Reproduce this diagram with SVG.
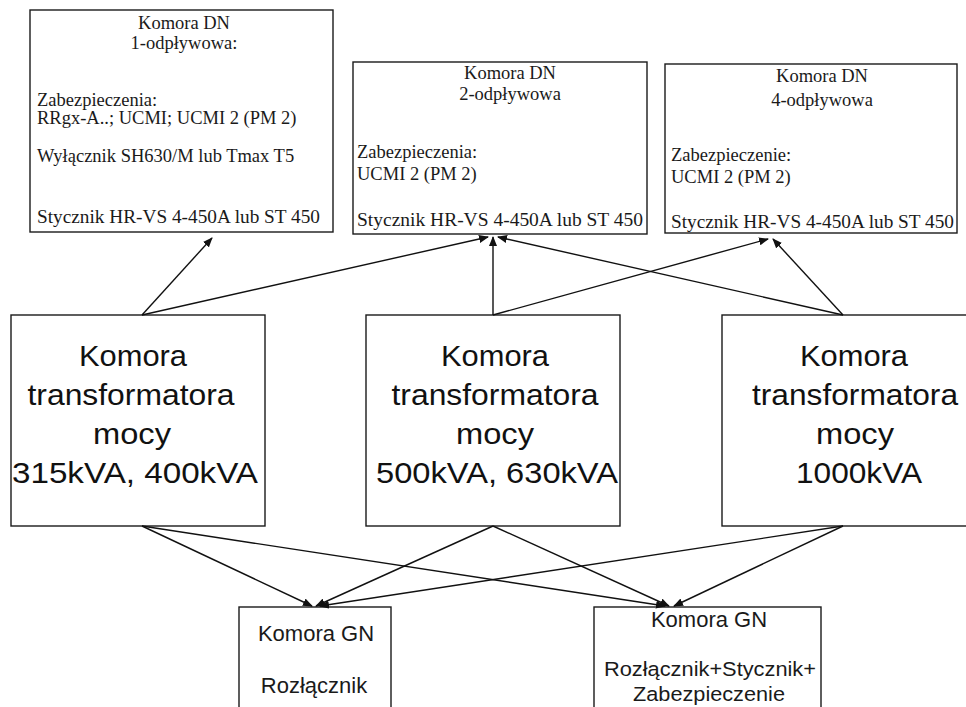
<svg xmlns="http://www.w3.org/2000/svg" width="966" height="707" viewBox="0 0 966 707">
<style>
.box{fill:#fff;stroke:#1a1a1a;stroke-width:1.4}
.dn{font-family:"Liberation Serif","Times New Roman",serif;font-size:18.5px;fill:#1a1a1a}
.tr{font-family:"Liberation Sans",Arial,sans-serif;font-size:30px;fill:#111;text-anchor:middle}
.gn{font-family:"Liberation Sans",Arial,sans-serif;font-size:22px;fill:#1a1a1a;text-anchor:middle}
.gs{font-size:20.5px}
.c{text-anchor:middle}
.con line{stroke:#111;stroke-width:1.4;marker-end:url(#ah)}
</style>
<defs>
<marker id="ah" markerUnits="userSpaceOnUse" markerWidth="10" markerHeight="8" refX="9" refY="4" orient="auto">
<path d="M0,0 L10,4 L0,8 Z" fill="#111"/>
</marker>
</defs>
<rect width="966" height="707" fill="#fff"/>

<g id="dn1">
<rect class="box" x="30" y="10" width="303" height="222"/>
<text class="dn c" x="184" y="29">Komora DN</text>
<text class="dn c" x="184" y="49">1-odpływowa:</text>
<text class="dn" x="37" y="106">Zabezpieczenia:</text>
<text class="dn" x="37" y="124">RRgx-A..; UCMI; UCMI 2 (PM 2)</text>
<text class="dn" x="37" y="162">Wyłącznik SH630/M lub Tmax T5</text>
<text class="dn" x="37" y="223" textLength="283" lengthAdjust="spacingAndGlyphs">Stycznik HR-VS 4-450A lub ST 450</text>
</g>

<g id="dn2">
<rect class="box" x="353" y="62" width="294" height="172"/>
<text class="dn c" x="510" y="79">Komora DN</text>
<text class="dn c" x="510" y="100">2-odpływowa</text>
<text class="dn" x="357" y="158">Zabezpieczenia:</text>
<text class="dn" x="357" y="180">UCMI 2 (PM 2)</text>
<text class="dn" x="357" y="226" textLength="286" lengthAdjust="spacingAndGlyphs">Stycznik HR-VS 4-450A lub ST 450</text>
</g>

<g id="dn4">
<rect class="box" x="665" y="64" width="292" height="169"/>
<text class="dn c" x="822" y="82">Komora DN</text>
<text class="dn c" x="822" y="106">4-odpływowa</text>
<text class="dn" x="671" y="161">Zabezpieczenie:</text>
<text class="dn" x="671" y="183">UCMI 2 (PM 2)</text>
<text class="dn" x="671" y="228" textLength="283" lengthAdjust="spacingAndGlyphs">Stycznik HR-VS 4-450A lub ST 450</text>
</g>

<g id="tr1">
<rect class="box" x="11" y="315" width="254" height="211"/>
<text class="tr" x="133" y="366" textLength="108" lengthAdjust="spacingAndGlyphs">Komora</text>
<text class="tr" x="131" y="405" textLength="207" lengthAdjust="spacingAndGlyphs">transformatora</text>
<text class="tr" x="132" y="444" textLength="78" lengthAdjust="spacingAndGlyphs">mocy</text>
<text class="tr" x="135" y="483" textLength="246" lengthAdjust="spacingAndGlyphs">315kVA, 400kVA</text>
</g>

<g id="tr2">
<rect class="box" x="366" y="315" width="254" height="211"/>
<text class="tr" x="495" y="366" textLength="108" lengthAdjust="spacingAndGlyphs">Komora</text>
<text class="tr" x="495" y="405" textLength="207" lengthAdjust="spacingAndGlyphs">transformatora</text>
<text class="tr" x="495" y="444" textLength="78" lengthAdjust="spacingAndGlyphs">mocy</text>
<text class="tr" x="497" y="483" textLength="242" lengthAdjust="spacingAndGlyphs">500kVA, 630kVA</text>
</g>

<g id="tr3">
<rect class="box" x="722" y="315" width="266" height="211"/>
<text class="tr" x="854" y="366" textLength="108" lengthAdjust="spacingAndGlyphs">Komora</text>
<text class="tr" x="855" y="405" textLength="206" lengthAdjust="spacingAndGlyphs">transformatora</text>
<text class="tr" x="855" y="444" textLength="78" lengthAdjust="spacingAndGlyphs">mocy</text>
<text class="tr" x="859" y="483" textLength="126" lengthAdjust="spacingAndGlyphs">1000kVA</text>
</g>

<g id="gn1">
<rect class="box" x="239" y="607" width="152" height="110"/>
<text class="gn" x="316" y="641">Komora GN</text>
<text class="gn" x="314" y="693">Rozłącznik</text>
</g>

<g id="gn2">
<rect class="box" x="594" y="607" width="227" height="110"/>
<text class="gn" x="709" y="627">Komora GN</text>
<text class="gn gs" x="710" y="676" textLength="212" lengthAdjust="spacingAndGlyphs">Rozłącznik+Stycznik+</text>
<text class="gn gs" x="709" y="701" textLength="152" lengthAdjust="spacingAndGlyphs">Zabezpieczenie</text>
</g>

<g id="connectors" class="con">
<line x1="142" y1="315" x2="212" y2="238"/>
<line x1="142" y1="315" x2="488" y2="237"/>
<line x1="493" y1="315" x2="493" y2="237"/>
<line x1="493" y1="315" x2="768" y2="239"/>
<line x1="843" y1="315" x2="773" y2="239"/>
<line x1="843" y1="315" x2="498" y2="237"/>
<line x1="142" y1="526" x2="312" y2="606"/>
<line x1="142" y1="526" x2="665" y2="606"/>
<line x1="493" y1="526" x2="316" y2="606"/>
<line x1="493" y1="526" x2="669" y2="606"/>
<line x1="843" y1="526" x2="320" y2="606"/>
<line x1="843" y1="526" x2="674" y2="606"/>
</g>
</svg>
